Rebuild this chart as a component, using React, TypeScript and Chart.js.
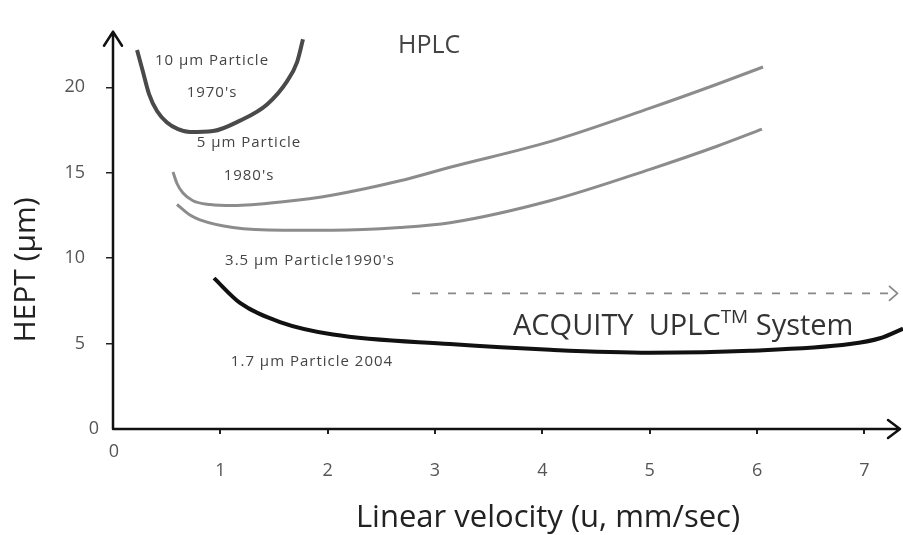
import React, { useEffect, useRef } from "react";
import { Chart, registerables } from "chart.js";

Chart.register(...registerables);

// ---- data (x: linear velocity mm/sec, y: HEPT µm) ----
const p10x = [0.224, 0.279, 0.335, 0.41, 0.503, 0.606, 0.717, 0.932, 1.183, 1.435, 1.621, 1.714, 1.77];
const p10y = [22.19, 20.91, 19.62, 18.61, 17.94, 17.55, 17.38, 17.44, 18.05, 19.0, 20.35, 21.46, 22.81];

const p5x = [0.559, 0.596, 0.652, 0.745, 0.904, 1.118, 1.584, 2.05, 2.674, 3.14, 4.071, 5.003, 5.627, 6.056];
const p5y = [15.04, 14.37, 13.81, 13.36, 13.14, 13.08, 13.3, 13.7, 14.53, 15.32, 16.82, 18.78, 20.18, 21.19];

const p35x = [0.596, 0.717, 0.81, 1.118, 1.584, 2.05, 2.674, 3.14, 4.071, 5.003, 5.627, 6.046];
const p35y = [13.14, 12.52, 12.24, 11.79, 11.63, 11.63, 11.79, 12.07, 13.36, 15.2, 16.55, 17.55];

const p17x = [0.941, 1.183, 1.556, 2.05, 3.14, 4.071, 5.003, 5.934, 6.866, 7.145, 7.36];
const p17y = [8.83, 7.38, 6.26, 5.53, 4.97, 4.64, 4.47, 4.58, 4.97, 5.31, 5.87];

const arrowX = [2.786, 7.29];
const arrowY = [7.94, 7.94];

const xTicks = [0, 1, 2, 3, 4, 5, 6, 7];
const yTicks = [0, 5, 10, 15, 20];

const xTitle = "Linear velocity (u, mm/sec)";
const yTitle = "HEPT (µm)";

const toPts = (xs: number[], ys: number[]) => xs.map((x, i) => ({ x, y: ys[i] }));

const FONT = '"Open Sans", "DejaVu Sans", sans-serif';

const annotationPlugin = {
  id: "annot",
  afterDatasetsDraw(chart: any) {
    const { ctx, chartArea, scales } = chart;
    const xs = scales.x;
    const ys = scales.y;
    const ox = xs.getPixelForValue(0);
    const oy = ys.getPixelForValue(0);
    ctx.save();
    // axes with arrow heads
    ctx.strokeStyle = "#111";
    ctx.lineWidth = 2.5;
    ctx.lineCap = "round";
    ctx.lineJoin = "round";
    ctx.beginPath();
    ctx.moveTo(ox, oy);
    ctx.lineTo(ox, chartArea.top);
    ctx.moveTo(ox - 9, chartArea.top + 14);
    ctx.lineTo(ox, chartArea.top);
    ctx.lineTo(ox + 9, chartArea.top + 14);
    const xr = chartArea.right - 3;
    ctx.moveTo(ox, oy);
    ctx.lineTo(xr, oy);
    ctx.moveTo(xr - 12, oy - 9);
    ctx.lineTo(xr, oy);
    ctx.lineTo(xr - 12, oy + 9);
    ctx.stroke();

    // chevron at end of dashed arrow
    const meta = chart.getDatasetMeta(4);
    const last = meta.data[meta.data.length - 1];
    ctx.strokeStyle = "#888";
    ctx.lineWidth = 1.8;
    ctx.beginPath();
    ctx.moveTo(last.x - 6, last.y - 7);
    ctx.lineTo(last.x + 2, last.y);
    ctx.lineTo(last.x - 6, last.y + 7);
    ctx.stroke();

    // texts
    const txt = (s: string, x: number, y: number, size: number, color: string, align: CanvasTextAlign = "center", spacing = "0px") => {
      ctx.font = `${size}px ${FONT}`;
      ctx.fillStyle = color;
      ctx.textAlign = align;
      ctx.textBaseline = "alphabetic";
      (ctx as any).letterSpacing = spacing;
      ctx.fillText(s, x, y);
      (ctx as any).letterSpacing = "0px";
    };
    txt("10 µm Particle", 212, 65, 15, "#444", "center", "1px");
    txt("1970's", 212, 97, 15, "#444", "center", "1px");
    txt("5 µm Particle", 249, 147, 15, "#444", "center", "1px");
    txt("1980's", 249, 180, 15, "#444", "center", "1px");
    txt("3.5 µm Particle1990's", 310, 265, 15, "#444", "center", "1px");
    txt("1.7 µm Particle 2004", 312, 366, 15, "#444", "center", "1px");
    txt("HPLC", 398, 53, 25, "#444", "left");
    txt("0", 114, 457, 18, "#555");
    txt("0", 94, 434, 18, "#555");

    // ACQUITY UPLC(TM) System
    let ax = 513;
    const ay = 335;
    ctx.font = `29px ${FONT}`;
    ctx.fillStyle = "#333";
    ctx.textAlign = "left";
    const a1 = "ACQUITY  UPLC";
    ctx.fillText(a1, ax, ay);
    ax += ctx.measureText(a1).width;
    ctx.font = `19px ${FONT}`;
    ctx.fillText("TM", ax, ay - 12);
    ax += ctx.measureText("TM").width;
    ctx.font = `29px ${FONT}`;
    ctx.fillText(" System", ax, ay);

    // axis titles
    txt(xTitle, 548, 527, 31, "#222");
    ctx.save();
    ctx.translate(26, 270);
    ctx.rotate(-Math.PI / 2);
    ctx.font = `30px ${FONT}`;
    ctx.fillStyle = "#222";
    ctx.textAlign = "center";
    ctx.textBaseline = "middle";
    ctx.fillText(yTitle, 0, 0);
    ctx.restore();
    ctx.restore();
  },
};

export default function App() {
  const ref = useRef<HTMLCanvasElement | null>(null);
  useEffect(() => {
    if (!ref.current) return;
    const chart = new Chart(ref.current, {
      type: "line",
      data: {
        datasets: [
          { label: "10 µm", data: toPts(p10x, p10y), borderColor: "#4a4a4a", borderWidth: 4, cubicInterpolationMode: "monotone" },
          { label: "5 µm", data: toPts(p5x, p5y), borderColor: "#8c8c8c", borderWidth: 3, cubicInterpolationMode: "monotone" },
          { label: "3.5 µm", data: toPts(p35x, p35y), borderColor: "#8c8c8c", borderWidth: 3, cubicInterpolationMode: "monotone" },
          { label: "1.7 µm", data: toPts(p17x, p17y), borderColor: "#111", borderWidth: 4, cubicInterpolationMode: "monotone", clip: false as any },
          { label: "arrow", data: toPts(arrowX, arrowY), borderColor: "#888", borderWidth: 1.6, borderDash: [8, 10] },
        ],
      },
      options: {
        animation: false,
        responsive: false,
        elements: { point: { radius: 0 }, line: { fill: false } },
        layout: { padding: { top: 13, right: 0, bottom: 0, left: 0 } },
        plugins: { legend: { display: false }, tooltip: { enabled: false } },
        scales: {
          x: {
            type: "linear",
            min: 0,
            max: 7.36,
            afterFit: (s: any) => { s.height = 106; },
            afterBuildTicks: (s: any) => { s.ticks = xTicks.map((v) => ({ value: v })); },
            border: { display: false },
            grid: {
              drawOnChartArea: false,
              tickLength: 5,
              color: (c: any) => (c.tick && c.tick.value === 0 ? "rgba(0,0,0,0)" : "#222"),
              lineWidth: 2,
            },
            ticks: {
              includeBounds: false,
              padding: 26,
              color: "#555",
              font: { family: FONT, size: 18 },
              callback: (v: any) => (v === 0 ? "" : String(v)),
            },
          },
          y: {
            type: "linear",
            min: 0,
            max: 23.25,
            afterFit: (s: any) => { s.width = 113; },
            afterBuildTicks: (s: any) => { s.ticks = yTicks.map((v) => ({ value: v })); },
            border: { display: false },
            grid: {
              drawOnChartArea: false,
              tickLength: 7,
              color: (c: any) => (c.tick && c.tick.value === 0 ? "rgba(0,0,0,0)" : "#222"),
              lineWidth: 1.5,
            },
            ticks: {
              includeBounds: false,
              padding: 21,
              color: "#555",
              font: { family: FONT, size: 18 },
              callback: (v: any) => (v === 0 ? "" : String(v)),
            },
          },
        },
      },
      plugins: [annotationPlugin],
    });
    return () => chart.destroy();
  }, []);
  return (
    <div style={{ position: "fixed", left: 0, top: 0, width: 903, height: 535, background: "#fff" }}>
      <canvas ref={ref} width={903} height={535} style={{ display: "block" }} />
    </div>
  );
}
